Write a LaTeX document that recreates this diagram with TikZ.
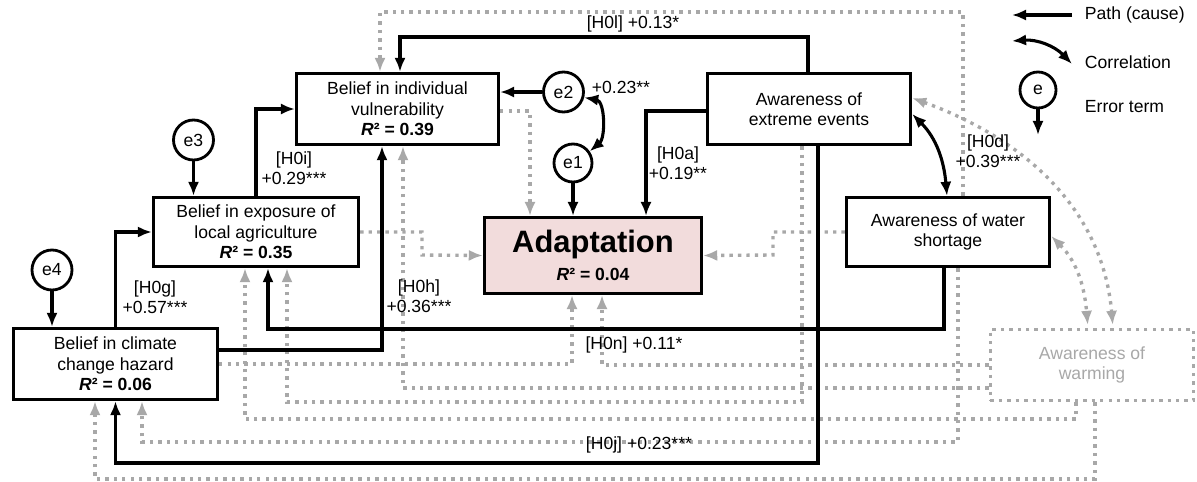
\documentclass[tikz,border=0pt]{standalone}
\usepackage{fontspec}
\setmainfont{Liberation Sans}
\usetikzlibrary{arrows.meta,positioning}
\definecolor{adaptfill}{RGB}{242,220,220}
\definecolor{nsgray}{RGB}{168,168,168}
\newcommand{\rsquared}[1]{\textbf{\textit{R}² = #1}}

\begin{document}
\begin{tikzpicture}[x=0.025cm,y=-0.025cm,>={Latex[length=10pt,width=8pt]},
  font=\fontsize{12.5}{14.5}\selectfont,
  box/.style={draw,line width=2.2pt,fill=white,align=center,inner sep=2pt},
  errterm/.style={draw,circle,line width=2pt,minimum size=1cm,inner sep=0pt,fill=white},
  cause/.style={->,line width=2.2pt},
  corr/.style={<->,line width=2.2pt},
  nsline/.style={draw=nsgray,line width=2.4pt,dash pattern=on 2.4pt off 3.6pt},
  nspath/.style={nsline,-{Latex[length=10pt,width=8pt]}},
  nscorr/.style={nsline,{Latex[length=10pt,width=8pt]}-{Latex[length=10pt,width=8pt]},shorten >=2pt},
  coef/.style={align=center,inner sep=1pt}]
\useasboundingbox (0,0) rectangle (1197,481);

\node[box,minimum width=5.05cm,minimum height=1.78cm] (viv) at (397.5,109) {Belief in individual\\vulnerability\\\rsquared{0.39}};
\node[box,minimum width=5.13cm,minimum height=1.73cm] (exp) at (256,232) {Belief in exposure of\\local agriculture\\\rsquared{0.35}};
\node[box,minimum width=5.1cm,minimum height=1.78cm] (haz) at (115.5,364) {Belief in climate\\change hazard\\\rsquared{0.06}};
\node[box,fill=adaptfill,minimum width=5.43cm,minimum height=1.9cm] (adapt) at (593,255.5) {{\fontsize{22}{24}\selectfont\bfseries Adaptation}\\[5pt]\rsquared{0.04}};
\node[box,minimum width=5.08cm,minimum height=1.78cm] (ext) at (809,109) {Awareness of\\extreme events};
\node[box,minimum width=5.08cm,minimum height=1.73cm] (wat) at (948,232) {Awareness of water\\shortage};
\node[box,nsline,text=nsgray,minimum width=5.08cm,minimum height=1.78cm] (warm) at (1092,365) {Awareness of\\warming};

\node[errterm] (e2) at (563.5,92) {e2};
\node[errterm,minimum size=0.95cm] (e1) at (573,163) {e1};
\node[errterm] (e3) at (193.5,140) {e3};
\node[errterm] (e4) at (52,270) {e4};

\draw[nspath] (wat.north -| 963,0) |- (380,12) -- (viv.north -| 380,0);
\draw[nspath] (viv.east |- 0,111) -| (adapt.north -| 530,0);
\draw[nspath] (exp.east) -| (422,255) -- (adapt.west);
\draw[nspath] (haz.east) -| (adapt.south -| 572,0);
\draw[nspath] (warm.west) -| (adapt.south -| 602,0);
\draw[nspath] (wat.west) -| (773,255) -- (adapt.east);
\draw[nspath] (warm.west |- 0,388) -| (viv.south -| 403,0);
\draw[nspath] (ext.south -| 802,0) |- (287,402) -- (exp.south -| 287,0);
\draw[nspath] (warm.south -| 1076,0) |- (245,419) -- (exp.south -| 245,0);
\draw[nspath] (wat.south -| 958,0) |- (142,442) -- (haz.south -| 142,0);
\draw[nspath] (warm.south -| 1095,0) |- (95,479) -- (haz.south -| 95,0);
\draw[nscorr] (ext.east |- 0,98) to[out=-20,in=95] (warm.north -| 1113,0);
\draw[nscorr] (wat.east |- 0,236) to[out=-45,in=95] (warm.north -| 1088,0);

\draw[cause] (haz.north) |- (exp.west);
\draw[cause] (exp.north) |- (viv.west);
\draw[cause] (haz.east |- 0,350) -| (viv.south -| 382,0);
\draw[cause] (wat.south -| 944,0) |- (268,329) -- (exp.south -| 268,0);
\draw[cause] (ext.north -| 808,0) |- (400,37) -- (viv.north -| 400,0);
\draw[cause] (ext.west |- 0,111) -| (adapt.north -| 646,0);
\draw[cause] (ext.south -| 818,0) |- (haz.south |- 0,463) -- (haz.south);
\draw[cause] (e2) -- (viv.east |- e2);
\draw[cause] (e1) -- (adapt.north -| e1);
\draw[cause] (e3) -- (exp.north -| e3);
\draw[cause] (e4) -- (haz.north -| e4);
\draw[corr] (e2.-15) to[out=-10,in=40] (e1.35);
\draw[corr] (ext.east |- 0,114) to[out=-45,in=95] (wat.north -| 947,0);

\node[coef] (lg) at (155,297) {[H0g]\\+0.57***};
\node[coef] (li) at (294,168) {[H0i]\\+0.29***};
\node[coef] (lh) at (419,296) {[H0h]\\+0.36***};
\node[coef] (la) at (678,163) {[H0a]\\+0.19**};
\node[coef] (ld) at (988,151) {[H0d]\\+0.39***};
\node[coef] (ll) at (633,24) {[H0l] +0.13*};
\node[coef] (ln) at (634,345) {[H0n] +0.11*};
\node[coef] (lj) at (639,445) {[H0j] +0.23***};
\node[coef] (lc) at (621,87) {+0.23**};

\coordinate (lp0) at (1072,15);
\coordinate (lp1) at (1012,15);
\coordinate (lc0) at (1012,41);
\coordinate (lc1) at (1072,64);
\coordinate (lcy) at (1072,62);
\coordinate (ley) at (1072,107);
\node[errterm,minimum size=0.9cm] (le) at (1038,90) {e};
\coordinate (le1) at (1038,135);
\node[right=0.2cm of lp0] (lpath) {Path (cause)};
\node[right=0.2cm of lcy] (lcorr) {Correlation};
\node[right=0.2cm of ley] (lerr) {Error term};
\draw[cause] (lp0) -- (lp1);
\draw[corr] (lc0) to[bend left=25] (lc1);
\draw[cause] (le) -- (le1);
\end{tikzpicture}
\end{document}
